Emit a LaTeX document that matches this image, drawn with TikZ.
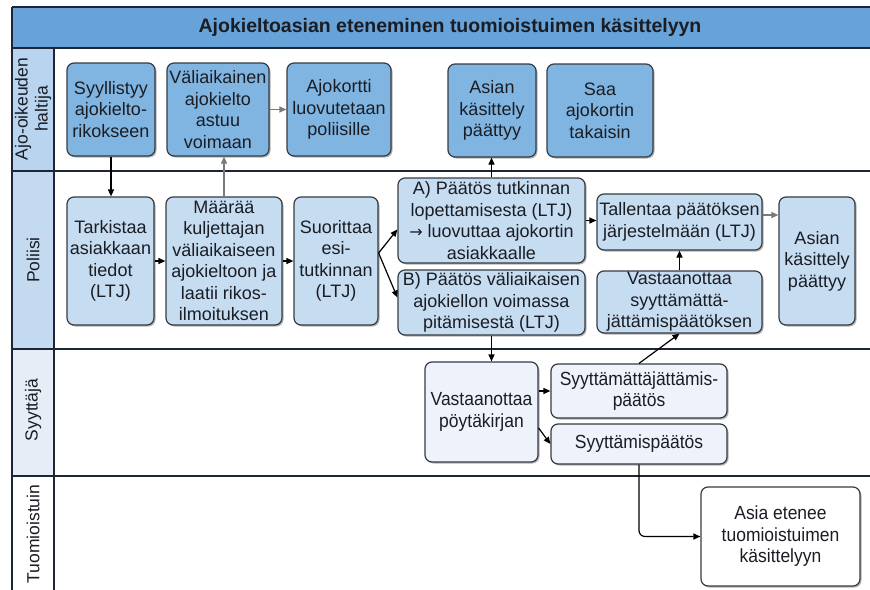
\documentclass[tikz,border=0pt]{standalone}
\usepackage{fontspec}
\setmainfont{Liberation Sans}
\newfontfamily\narrowsans[FakeStretch=0.92]{Liberation Sans}
\newfontfamily\symbolsans{DejaVu Sans}
\usetikzlibrary{arrows.meta,shadows,calc}

\definecolor{titlefill}{HTML}{67A3D9}
\definecolor{frameline}{HTML}{1E2536}
\definecolor{labA}{HTML}{B8D4EE}
\definecolor{labB}{HTML}{C3DAF0}
\definecolor{labC}{HTML}{E6EDF7}
\definecolor{fillA}{HTML}{80B4E1}
\definecolor{fillB}{HTML}{C6DCF1}
\definecolor{fillC}{HTML}{EEF2FA}
\definecolor{boxline}{HTML}{363B44}
\definecolor{textc}{HTML}{1A1D24}
\definecolor{softline}{HTML}{7A7A7A}

\tikzset{
  box/.style={draw=boxline, line width=1.2pt, rounded corners=7pt, align=center,
    inner sep=0pt, text=textc, font=\fontsize{18}{21.5}\selectfont,
    drop shadow={shadow xshift=1.5pt, shadow yshift=-1.5pt, opacity=0.3, fill=black}},
  sz/.style 2 args={minimum width=#1pt, minimum height=#2pt},
  haltijabox/.style={box, fill=fillA},
  poliisibox/.style={box, fill=fillB},
  syyttajabox/.style={box, fill=fillC, font=\narrowsans\fontsize{19}{21.5}\selectfont},
  oikeusbox/.style={box, fill=white, font=\narrowsans\fontsize{19}{21.5}\selectfont},
  lanelabel/.style={rotate=90, align=center, text=textc, font=\fontsize{17.5}{20}\selectfont},
  flow/.style={draw=black, line width=1.2pt, -{Triangle[length=7pt,width=6pt]}},
  softflow/.style={flow, draw=softline},
  laneline/.style={draw=frameline, line width=1.4pt}
}

\begin{document}
\begin{tikzpicture}[x=1pt, y=-1pt]
\useasboundingbox (0,0) rectangle (870,589);
\clip (0,0) rectangle (870,589);

% swimlane frame
\fill[titlefill] (12,7) rectangle (900,48);
\fill[labA] (12,48) rectangle (54,171);
\fill[labB] (12,171) rectangle (54,349);
\fill[labC] (12,349) rectangle (54,476);
\draw[frameline, line width=1.2pt] (12,7) -- (900,7);
\draw[frameline, line width=1.8pt] (12,48) -- (900,48);
\draw[laneline] (12,171) -- (900,171);
\draw[laneline] (12,349) -- (900,349);
\draw[laneline] (12,476) -- (900,476);
\draw[frameline, line width=1.4pt] (12,7) -- (12,600);
\draw[frameline, line width=1.2pt] (54,48) -- (54,600);

\node[text=textc, font=\bfseries\fontsize{19.5}{24}\selectfont] (title) at (450,27.5)
  {Ajokieltoasian eteneminen tuomioistuimen käsittelyyn};

% lane labels
\node[lanelabel] (labhaltija) at (33,109) {Ajo-oikeuden\\haltija};
\node[lanelabel] (labpoliisi) at (33,260) {Poliisi};
\node[lanelabel] (labsyyttaja) at (33,410) {Syyttäjä};
\node[lanelabel] (labtuomio) at (33,534) {Tuomioistuin};

% driving licence holder
\node[haltijabox, sz={88}{93}] (n1) at (111,109.5) {Syyllistyy\\ajokielto-\\rikokseen};
\node[haltijabox, sz={102}{93}] (n2) at (218,109.5) {Väliaikainen\\ajokielto\\astuu\\voimaan};
\node[haltijabox, sz={104}{93}] (n3) at (339,109.5) {Ajokortti\\luovutetaan\\poliisille};
\node[haltijabox, sz={88}{93}] (n4) at (492,110.5) {Asian\\käsittely\\päättyy};
\node[haltijabox, sz={106}{93}] (n5) at (600,110.5) {Saa\\ajokortin\\takaisin};

% police
\node[poliisibox, sz={87}{128}] (m1) at (110.5,261) {Tarkistaa\\asiakkaan\\tiedot\\(LTJ)};
\node[poliisibox, sz={116}{128}] (m2) at (224,261) {Määrää\\kuljettajan\\väliaikaiseen\\ajokieltoon ja\\laatii rikos-\\ilmoituksen};
\node[poliisibox, sz={84}{128}] (m3) at (336,261) {Suorittaa\\esi-\\tutkinnan\\(LTJ)};
\node[poliisibox, sz={187}{85}] (m4) at (491.5,220.5) {A) Päätös tutkinnan\\lopettamisesta (LTJ)\\{\symbolsans\fontsize{16}{21.5}\selectfont →} luovuttaa ajokortin\\asiakkaalle};
\node[poliisibox, sz={187}{65}] (m5) at (491.5,302.5) {B) Päätös väliaikaisen\\ajokiellon voimassa\\pitämisestä (LTJ)};
\node[poliisibox, sz={165}{56}] (m6) at (679.5,222) {Tallentaa päätöksen\\järjestelmään (LTJ)};
\node[poliisibox, sz={165}{62}] (m7) at (679.5,302) {Vastaanottaa\\syyttämättä-\\jättämispäätöksen};
\node[poliisibox, sz={76}{128}] (m8) at (817,261) {Asian\\käsittely\\päättyy};

% prosecutor
\node[syyttajabox, sz={113}{100}] (s1) at (481.5,412) {Vastaanottaa\\pöytäkirjan};
\node[syyttajabox, sz={176}{54}] (s2) at (639,391) {Syyttämättäjättämis-\\päätös};
\node[syyttajabox, sz={176}{40}] (s3) at (639,444) {Syyttämispäätös};

% court
\node[oikeusbox, sz={159}{99}] (t1) at (780.5,536.5) {Asia etenee\\tuomioistuimen\\käsittelyyn};

% connectors
\draw[flow] (n1.south) -- (n1.south |- m1.north);
\draw[softflow] (m2.north) -- (m2.north |- n2.south);
\draw[softflow] (n2.east) -- (n3.west);
\draw[flow] (m1.east) -- (m2.west);
\draw[flow] (m2.east) -- (m3.west);
\draw[flow] ([yshift=8pt]m3.east) -- ([yshift=-9pt]m4.west);
\draw[flow] ([yshift=8pt]m3.east) -- ([yshift=5pt]m5.west);
\draw[flow] (m4.east) -- (m4.east -| m6.west);
\draw[softflow] ([yshift=7pt]m6.east) -- ([yshift=7pt]m6.east -| m8.west);
\draw[flow] (m7.north) -- (m6.south);
\draw[flow] (m4.north) -- (m4.north |- n4.south);
\draw[flow] (m5.south) -- (m5.south |- s1.north);
\draw[flow] (s1.east |- s2.west) -- (s2.west);
\draw[flow] ([yshift=-16pt]s1.east) -- (s3.west);
\draw[flow] (s2.north) -- (m7.south);
\draw[flow, rounded corners=6pt] (s3.south) |- (t1.west);
\end{tikzpicture}
\end{document}
